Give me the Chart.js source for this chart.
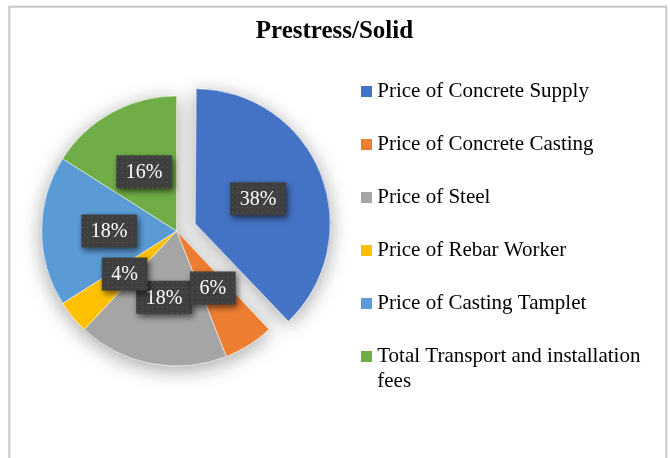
<!DOCTYPE html>
<html><head><meta charset="utf-8">
<script src="https://cdn.jsdelivr.net/npm/chart.js@4.4.1/dist/chart.umd.min.js"></script>
<style>html,body{margin:0;padding:0;background:#fff;overflow:hidden}</style>
</head><body>
<canvas id="c" width="670" height="458"></canvas>
<script>
// ---- data ----
const chartTitle = "Prestress/Solid";
const categories = [
  "Price of Concrete Supply",
  "Price of Concrete Casting",
  "Price of Steel",
  "Price of Rebar Worker",
  "Price of Casting Tamplet",
  ["Total Transport and installation", "fees"]
];
const shares = [38, 6, 18, 4, 18, 16];
const sliceColors = ["#4472C4", "#ED7D31", "#A5A5A5", "#FFC000", "#5B9BD5", "#70AD47"];
const explodeOffsets = [80, 0, 0, 0, 0, 0];
const labelDrawOrder = [0, 2, 1, 3, 4, 5];

const SERIF = "'Liberation Serif', 'Times New Roman', serif";

function swatch(color) {
  const c = document.createElement('canvas');
  c.width = 11; c.height = 11;
  const g = c.getContext('2d');
  g.fillStyle = color; g.fillRect(0, 0, 11, 11);
  return c;
}
function dotPattern(ctx) {
  const c = document.createElement('canvas');
  c.width = 5; c.height = 5;
  const g = c.getContext('2d');
  g.fillStyle = '#3f3f3f'; g.fillRect(0, 0, 5, 5);
  g.fillStyle = '#5a5a5a'; g.fillRect(2, 2, 1, 1);
  return ctx.createPattern(c, 'repeat');
}

const framePlugin = {
  id: 'frame',
  beforeDraw(chart) {
    const ctx = chart.ctx;
    ctx.save();
    ctx.fillStyle = '#fff';
    ctx.fillRect(0, 0, chart.width, chart.height);
    ctx.strokeStyle = '#c6c6c6';
    ctx.lineWidth = 2;
    ctx.strokeRect(9.3, 6.7, 657, 500);
    ctx.restore();
  }
};

const pieFixPlugin = {
  id: 'pieFix',
  beforeDatasetsDraw(chart) {
    const meta = chart.getDatasetMeta(0);
    const R = meta.controller.outerRadius;
    meta.data.forEach(arc => {
      const off = (arc.options.offset || 0) / 4;
      const circ = arc.endAngle - arc.startAngle;
      const fix = 1 - Math.sin(Math.min(Math.PI, circ));
      arc.outerRadius = R - off * fix;
    });
    const ctx = chart.ctx;
    ctx.save();
    ctx.shadowColor = 'rgba(0,0,0,0.35)';
    ctx.shadowBlur = 20;
    ctx.shadowOffsetY = 4;
    meta.data.forEach(arc => arc.draw(ctx));
    ctx.restore();
  }
};

const boxLabelPlugin = {
  id: 'boxLabels',
  afterDatasetsDraw(chart) {
    const ctx = chart.ctx;
    const meta = chart.getDatasetMeta(0);
    const data = chart.data.datasets[0].data;
    const total = data.reduce((a, b) => a + b, 0);
    const R = meta.controller.outerRadius;
    const pat = dotPattern(ctx);
    ctx.save();
    ctx.font = "20px " + SERIF;
    labelDrawOrder.forEach(i => {
      const arc = meta.data[i];
      const mid = (arc.startAngle + arc.endAngle) / 2;
      const r = R * 0.5 + (arc.options.offset || 0) / 4;
      const x = arc.x + Math.cos(mid) * r;
      const y = arc.y + Math.sin(mid) * r;
      const txt = Math.round(data[i] / total * 100) + '%';
      const w = ctx.measureText(txt).width + 19, h = 33;
      ctx.save();
      ctx.shadowColor = 'rgba(0,0,0,0.6)';
      ctx.shadowBlur = 6;
      ctx.shadowOffsetX = 2;
      ctx.shadowOffsetY = 3;
      ctx.fillStyle = pat;
      ctx.fillRect(x - w / 2, y - h / 2, w, h);
      ctx.restore();
      ctx.fillStyle = '#ffffff';
      ctx.textAlign = 'center';
      ctx.textBaseline = 'middle';
      ctx.fillText(txt, x, y + 1);
    });
    ctx.restore();
  }
};

const baseGen = (Chart.overrides.pie || Chart.overrides.doughnut).plugins.legend.labels.generateLabels;

new Chart(document.getElementById('c'), {
  type: 'pie',
  data: {
    labels: categories,
    datasets: [{
      data: shares,
      backgroundColor: sliceColors,
      borderColor: 'rgba(255,255,255,0.55)',
      borderWidth: 1,
      offset: explodeOffsets
    }]
  },
  options: {
    responsive: false,
    animation: false,
    devicePixelRatio: 1,
    radius: 135,
    layout: { padding: { left: 18.5, right: 19.6, top: 0, bottom: 28.5 } },
    plugins: {
      tooltip: { enabled: false },
      title: {
        display: true,
        text: chartTitle,
        color: '#000',
        font: { family: SERIF, size: 25, weight: 'bold', lineHeight: 0.08 },
        padding: { top: 30.5, bottom: 0 }
      },
      legend: {
        display: true,
        position: 'right',
        align: 'start',
        title: { display: true, text: ' ', font: { size: 10, lineHeight: 1 }, padding: { top: 39, bottom: 0 } },
        labels: {
          color: '#000',
          font: { family: SERIF, size: 21, lineHeight: 1.18 },
          padding: 32,
          usePointStyle: true,
          boxWidth: 0.01,
          boxHeight: 11,
          generateLabels(chart) {
            return baseGen(chart).map(it => Object.assign(it, { pointStyle: swatch(it.fillStyle) }));
          }
        }
      }
    }
  },
  plugins: [framePlugin, pieFixPlugin, boxLabelPlugin]
});
</script>
</body></html>
